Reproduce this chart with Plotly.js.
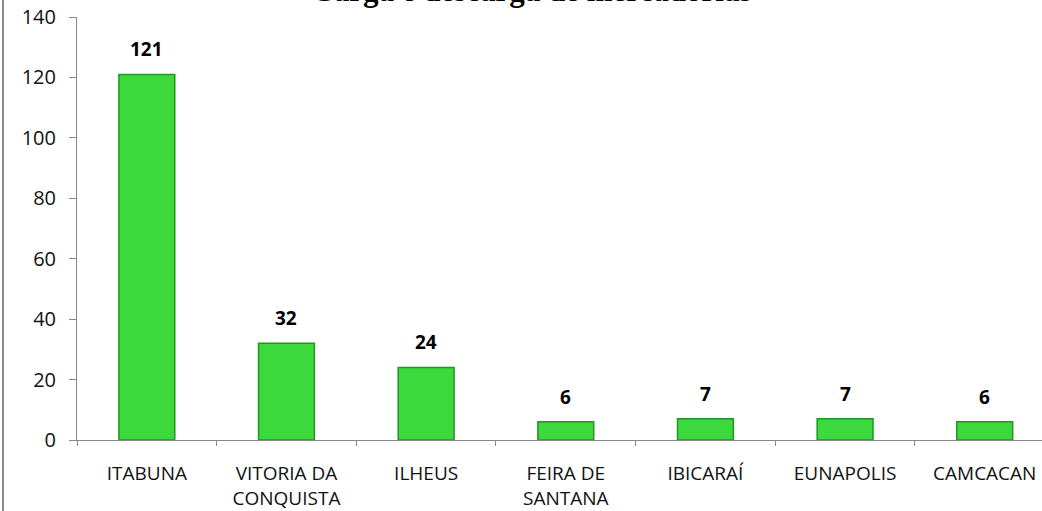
<!DOCTYPE html>
<html><head><meta charset="utf-8">
<script src="https://cdn.plot.ly/plotly-3.0.1.min.js"></script>
<style>html,body{margin:0;padding:0;background:#fff}#c{width:1042px;height:511px}</style>
</head><body><div id="c"></div>
<script>
const categories = ["ITABUNA", "VITORIA DA<br>CONQUISTA", "ILHEUS", "FEIRA DE<br>SANTANA", "IBICARAÍ", "EUNAPOLIS", "CAMCACAN"];
const values = [121, 32, 24, 6, 7, 7, 6];
const titleText = "Carga e descarga de mercadorias";

const trace = {
  type: "bar",
  x: categories,
  y: values,
  width: 0.4,
  marker: {color: "#3bd93b", line: {color: "#239623", width: 1.5}},
  hoverinfo: "skip"
};

const labels = categories.map((c, i) => ({
  x: c, y: values[i], xref: "x", yref: "y",
  text: "<b>" + values[i] + "</b>", showarrow: false,
  yanchor: "bottom", yshift: 10,
  font: {family: "Open Sans, sans-serif", size: 19, color: "#000"}
}));

const layout = {
  width: 1042, height: 511,
  margin: {l: 77, r: 0, t: 17, b: 71},
  paper_bgcolor: "#fff", plot_bgcolor: "#fff",
  showlegend: false,
  title: {text: "<b>" + titleText + "</b>", xref: "container", yref: "container", x: 0.51, xanchor: "center", y: 0.998, yanchor: "bottom",
          pad: {b: 0},
          font: {family: "Liberation Serif, serif", size: 31, color: "#000"}},
  xaxis: {type: "category", range: [-0.5, 6.41], showgrid: false, zeroline: false,
          showline: true, linecolor: "#888", linewidth: 1,
          ticks: "outside", tickson: "boundaries", ticklen: 5, tickcolor: "#888",
          ticklabelstandoff: 16,
          tickfont: {family: "Open Sans, sans-serif", size: 19, color: "#111"}},
  yaxis: {range: [0, 140], dtick: 20, showgrid: false, zeroline: false,
          showline: true, linecolor: "#888", linewidth: 1,
          ticks: "outside", ticklen: 7, tickcolor: "#888",
          ticklabelstandoff: 9,
          tickfont: {family: "Open Sans, sans-serif", size: 20, color: "#111"}},
  annotations: labels,
  shapes: [{type: "line", xref: "paper", yref: "paper", x0: -74/965, x1: -74/965, y0: -71/423, y1: 1 + 17/423,
            line: {color: "#8a8a8a", width: 2}}]
};

Plotly.newPlot("c", [trace], layout, {displayModeBar: false, staticPlot: true});
</script></body></html>
